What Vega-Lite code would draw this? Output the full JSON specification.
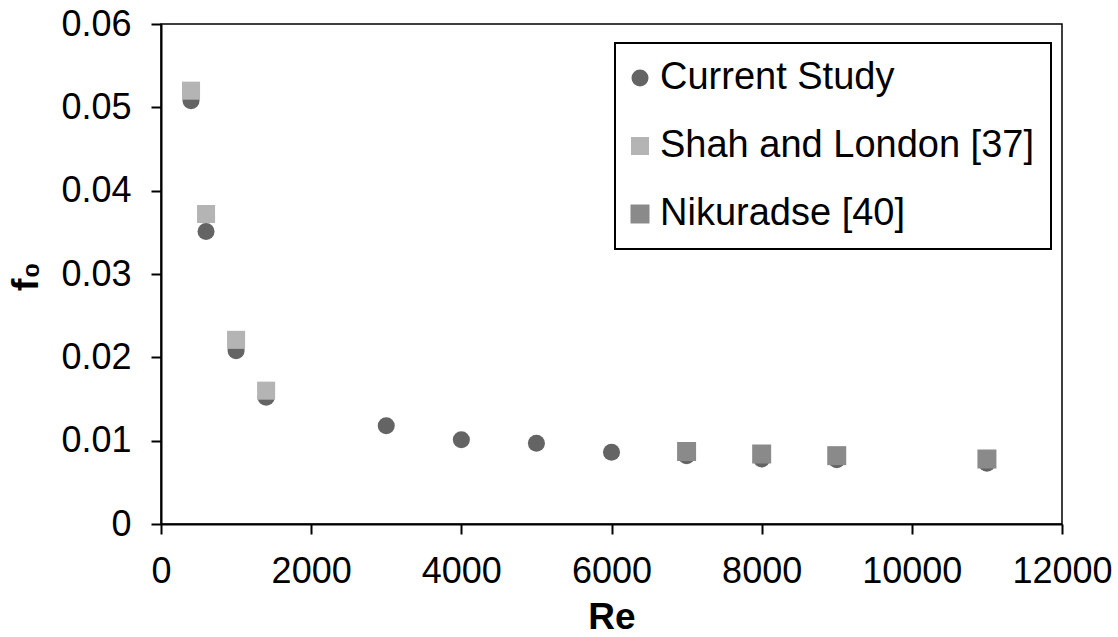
{
  "$schema": "https://vega.github.io/schema/vega-lite/v6.json",
  "autosize": "none",
  "width": 901,
  "height": 500,
  "padding": {"left": 161, "top": 24, "right": 56, "bottom": 113},
  "background": "white",
  "config": {
    "font": "Liberation Sans",
    "view": {"stroke": "#000000", "strokeWidth": 1.5},
    "legend": {"strokeColor": "#000000", "strokeWidth": 2},
    "axis": {
      "labelFont": "Liberation Sans",
      "titleFont": "Liberation Sans",
      "labelFontSize": 36,
      "titleFontSize": 37,
      "labelColor": "#000000",
      "titleColor": "#000000",
      "domainColor": "#000000",
      "tickColor": "#000000",
      "domainWidth": 2,
      "tickWidth": 2,
      "tickSize": 10,
      "grid": false,
      "titleFontWeight": "bold"
    }
  },
  "data": {
    "values": [
      {"Re": 400, "f0": 0.0508, "series": "Current Study"},
      {"Re": 600, "f0": 0.0351, "series": "Current Study"},
      {"Re": 1000, "f0": 0.0208, "series": "Current Study"},
      {"Re": 1400, "f0": 0.0152, "series": "Current Study"},
      {"Re": 3000, "f0": 0.0118, "series": "Current Study"},
      {"Re": 4000, "f0": 0.0101, "series": "Current Study"},
      {"Re": 5000, "f0": 0.0097, "series": "Current Study"},
      {"Re": 6000, "f0": 0.0086, "series": "Current Study"},
      {"Re": 7000, "f0": 0.0082, "series": "Current Study"},
      {"Re": 8000, "f0": 0.0078, "series": "Current Study"},
      {"Re": 9000, "f0": 0.0077, "series": "Current Study"},
      {"Re": 11000, "f0": 0.0073, "series": "Current Study"},
      {"Re": 400, "f0": 0.0520, "series": "Shah and London [37]"},
      {"Re": 600, "f0": 0.0372, "series": "Shah and London [37]"},
      {"Re": 1000, "f0": 0.0221, "series": "Shah and London [37]"},
      {"Re": 1400, "f0": 0.0160, "series": "Shah and London [37]"},
      {"Re": 7000, "f0": 0.0087, "series": "Nikuradse [40]"},
      {"Re": 8000, "f0": 0.0084, "series": "Nikuradse [40]"},
      {"Re": 9000, "f0": 0.0082, "series": "Nikuradse [40]"},
      {"Re": 11000, "f0": 0.0078, "series": "Nikuradse [40]"}
    ]
  },
  "mark": {"type": "point", "filled": true, "opacity": 1, "strokeWidth": 0},
  "encoding": {
    "x": {
      "field": "Re",
      "type": "quantitative",
      "scale": {"domain": [0, 12000], "nice": false, "zero": true},
      "axis": {
        "title": "Re",
        "values": [0, 2000, 4000, 6000, 8000, 10000, 12000],
        "format": "d",
        "labelBaseline": "alphabetic",
        "labelPadding": 48,
        "labelFlush": false,
        "labelOverlap": false,
        "titleBaseline": "alphabetic",
        "titleY": 104
      }
    },
    "y": {
      "field": "f0",
      "type": "quantitative",
      "scale": {"domain": [0, 0.06], "nice": false, "zero": true},
      "axis": {
        "title": "f₀",
        "values": [0, 0.01, 0.02, 0.03, 0.04, 0.05, 0.06],
        "format": ".2~f",
        "labelPadding": 20,
        "labelFlush": false,
        "labelOverlap": false,
        "titleAngle": -90,
        "titleAlign": "center",
        "titleBaseline": "alphabetic",
        "titleX": -124,
        "titleY": 252
      }
    },
    "color": {
      "field": "series",
      "type": "nominal",
      "scale": {
        "domain": ["Current Study", "Shah and London [37]", "Nikuradse [40]"],
        "range": ["#646464", "#b4b4b4", "#8a8a8a"]
      },
      "legend": {
        "title": null,
        "orient": "none",
        "legendX": 454,
        "legendY": 19,
        "direction": "vertical",
        "labelFont": "Liberation Sans",
        "labelFontSize": 38,
        "labelColor": "#000000",
        "labelLimit": 0,
        "symbolSize": 230,
        "symbolStrokeWidth": 0,
        "symbolOffset": -10,
        "labelOffset": 1,
        "rowPadding": 30,
        "padding": 16,
        "strokeColor": "#000000",
        "fillColor": "white"
      }
    },
    "shape": {
      "field": "series",
      "type": "nominal",
      "scale": {
        "domain": ["Current Study", "Shah and London [37]", "Nikuradse [40]"],
        "range": ["circle", "square", "square"]
      }
    },
    "size": {
      "field": "series",
      "type": "nominal",
      "scale": {
        "domain": ["Current Study", "Shah and London [37]", "Nikuradse [40]"],
        "range": [290, 361, 361]
      },
      "legend": null
    }
  }
}
